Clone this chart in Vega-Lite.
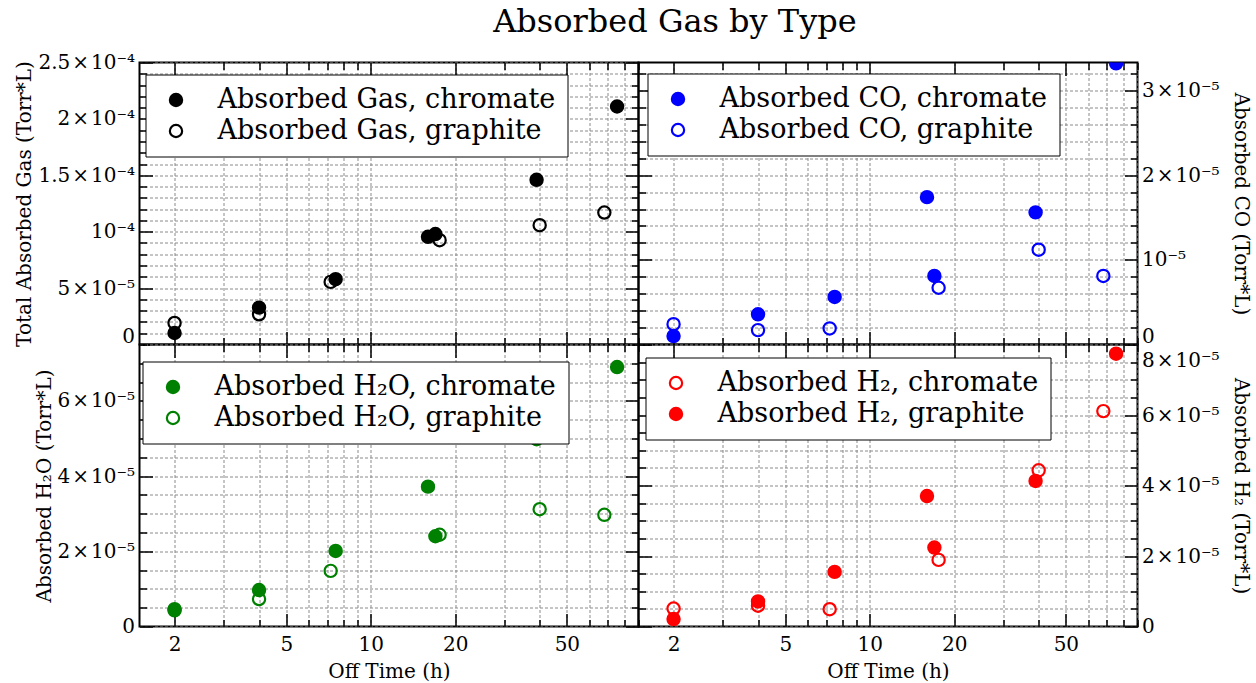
{
  "$schema": "https://vega.github.io/schema/vega-lite/v6.json",
  "background": "white",
  "padding": {"left": 13.5, "top": 5.5, "right": 5, "bottom": 0},
  "title": {"text": "Absorbed Gas by Type", "fontSize": 32, "font": "DejaVu Serif", "fontWeight": "normal", "color": "black", "anchor": "middle", "offset": 13, "dx": 42},
  "columns": 2,
  "spacing": 0,
  "bounds": "flush",
  "resolve": {"scale": {"fill": "independent"}, "legend": {"fill": "independent"}},
  "datasets": {
    "total": [
      {"t": 2, "v": 0.0000102, "s": "Absorbed Gas, chromate"},
      {"t": 4, "v": 0.0000327, "s": "Absorbed Gas, chromate"},
      {"t": 7.5, "v": 0.0000579, "s": "Absorbed Gas, chromate"},
      {"t": 16, "v": 0.0000955, "s": "Absorbed Gas, chromate"},
      {"t": 17, "v": 0.0000979, "s": "Absorbed Gas, chromate"},
      {"t": 39, "v": 0.000146, "s": "Absorbed Gas, chromate"},
      {"t": 75.5, "v": 0.000211, "s": "Absorbed Gas, chromate"},
      {"t": 2, "v": 0.0000191, "s": "Absorbed Gas, graphite"},
      {"t": 4, "v": 0.0000268, "s": "Absorbed Gas, graphite"},
      {"t": 7.2, "v": 0.0000555, "s": "Absorbed Gas, graphite"},
      {"t": 17.6, "v": 0.0000925, "s": "Absorbed Gas, graphite"},
      {"t": 40, "v": 0.0001058, "s": "Absorbed Gas, graphite"},
      {"t": 68, "v": 0.000117, "s": "Absorbed Gas, graphite"}
    ],
    "co": [
      {"t": 2, "v": 0.000001, "s": "Absorbed CO, chromate"},
      {"t": 4, "v": 0.00000357, "s": "Absorbed CO, chromate"},
      {"t": 7.5, "v": 0.00000562, "s": "Absorbed CO, chromate"},
      {"t": 16, "v": 0.0000174, "s": "Absorbed CO, chromate"},
      {"t": 17, "v": 0.0000081, "s": "Absorbed CO, chromate"},
      {"t": 39, "v": 0.0000156, "s": "Absorbed CO, chromate"},
      {"t": 75.5, "v": 0.0000332, "s": "Absorbed CO, chromate"},
      {"t": 2, "v": 0.0000024, "s": "Absorbed CO, graphite"},
      {"t": 4, "v": 0.0000017, "s": "Absorbed CO, graphite"},
      {"t": 7.2, "v": 0.0000019, "s": "Absorbed CO, graphite"},
      {"t": 17.6, "v": 0.0000067, "s": "Absorbed CO, graphite"},
      {"t": 40, "v": 0.0000112, "s": "Absorbed CO, graphite"},
      {"t": 68, "v": 0.0000081, "s": "Absorbed CO, graphite"}
    ],
    "h2o": [
      {"t": 2, "v": 0.0000043, "s": "Absorbed H₂O, chromate"},
      {"t": 4, "v": 0.0000097, "s": "Absorbed H₂O, chromate"},
      {"t": 7.5, "v": 0.0000201, "s": "Absorbed H₂O, chromate"},
      {"t": 16, "v": 0.0000372, "s": "Absorbed H₂O, chromate"},
      {"t": 17, "v": 0.000024, "s": "Absorbed H₂O, chromate"},
      {"t": 39, "v": 0.0000498, "s": "Absorbed H₂O, chromate"},
      {"t": 75.5, "v": 0.000069, "s": "Absorbed H₂O, chromate"},
      {"t": 2, "v": 0.0000046, "s": "Absorbed H₂O, graphite"},
      {"t": 4, "v": 0.0000073, "s": "Absorbed H₂O, graphite"},
      {"t": 7.2, "v": 0.0000148, "s": "Absorbed H₂O, graphite"},
      {"t": 17.6, "v": 0.0000244, "s": "Absorbed H₂O, graphite"},
      {"t": 40, "v": 0.0000312, "s": "Absorbed H₂O, graphite"},
      {"t": 68, "v": 0.0000297, "s": "Absorbed H₂O, graphite"}
    ],
    "h2": [
      {"t": 2, "v": 0.0000051, "s": "Absorbed H₂, chromate"},
      {"t": 4, "v": 0.0000059, "s": "Absorbed H₂, chromate"},
      {"t": 7.2, "v": 0.0000049, "s": "Absorbed H₂, chromate"},
      {"t": 17.6, "v": 0.0000189, "s": "Absorbed H₂, chromate"},
      {"t": 40, "v": 0.0000443, "s": "Absorbed H₂, chromate"},
      {"t": 68, "v": 0.0000611, "s": "Absorbed H₂, chromate"},
      {"t": 2, "v": 0.0000021, "s": "Absorbed H₂, graphite"},
      {"t": 4, "v": 0.0000071, "s": "Absorbed H₂, graphite"},
      {"t": 7.5, "v": 0.0000155, "s": "Absorbed H₂, graphite"},
      {"t": 16, "v": 0.000037, "s": "Absorbed H₂, graphite"},
      {"t": 17, "v": 0.0000224, "s": "Absorbed H₂, graphite"},
      {"t": 39, "v": 0.0000413, "s": "Absorbed H₂, graphite"},
      {"t": 75.5, "v": 0.0000774, "s": "Absorbed H₂, graphite"}
    ]
  },
  "concat": [
    {
      "width": 499, "height": 282,
      "data": {"name": "total"},
      "layer": [
        {
          "mark": {"type": "point", "shape": "circle", "filled": true, "size": 150, "stroke": "black", "strokeWidth": 2.2, "opacity": 1, "clip": true},
          "encoding": {
            "x": {"field": "t", "type": "quantitative", "scale": {"type": "log", "domain": [1.5, 90], "nice": false},
              "axis": {"orient": "bottom", "values": [2,3,4,5,6,7,8,9,10,20,30,40,50,60,70,80,90], "labels": false, "title": null, "grid": true,
                "tickSize": {"condition": {"test": "indexof([2,5,10,20,50], datum.value) >= 0", "value": -13}, "value": -7}}},
            "y": {"field": "v", "type": "quantitative", "scale": {"domain": [0, 0.00025], "nice": false, "zero": false},
              "axis": {"orient": "left", "title": "Total Absorbed Gas (Torr*L)", "grid": true, "titlePadding": 3, "labelPadding": 18,
                "values": [0,0.00001,0.00002,0.00003,0.00004,0.00005,0.00006,0.00007,0.00008,0.00009,0.0001,0.00011,0.00012,0.00013,0.00014,0.00015,0.00016,0.00017,0.00018,0.00019,0.0002,0.00021,0.00022,0.00023,0.00024,0.00025],
                "tickSize": {"condition": {"test": "abs(datum.value/0.00005 - round(datum.value/0.00005)) < 0.001", "value": -13}, "value": -7},
                "labelBaseline": {"condition": {"test": "datum.value < 1e-12", "value": "alphabetic"}, "value": "middle"},
                "labelOffset": {"condition": {"test": "datum.value < 1e-12", "value": -2}, "value": 0},
                "labelExpr": "abs(datum.value/0.00005 - round(datum.value/0.00005)) > 0.001 ? '' : datum.value < 1e-12 ? '0' : (abs(datum.value/pow(10, floor(log(datum.value)/LN10 + 1e-9)) - 1) < 1e-6 ? '' : format(datum.value/pow(10, floor(log(datum.value)/LN10 + 1e-9)), '.2~r') + '\u200a×\u200a') + '10' + (floor(log(datum.value)/LN10 + 1e-9) == -4 ? '⁻⁴' : '⁻⁵')"}},
            "fill": {"field": "s", "type": "nominal", "scale": {"domain": ["Absorbed Gas, chromate", "Absorbed Gas, graphite"], "range": ["black", "transparent"]},
              "legend": {"title": null, "orient": "none", "legendX": 6, "legendY": 12, "symbolStrokeColor": "black"}}
          }
        },
        {
          "mark": {"type": "point", "opacity": 0},
          "encoding": {
            "x": {"field": "t", "type": "quantitative", "scale": {"type": "log", "domain": [1.5, 90], "nice": false},
              "axis": {"orient": "top", "values": [2,3,4,5,6,7,8,9,10,20,30,40,50,60,70,80,90], "labels": false, "title": null, "grid": false,
                "tickSize": {"condition": {"test": "indexof([2,5,10,20,50], datum.value) >= 0", "value": -13}, "value": -7}}},
            "y": {"field": "v", "type": "quantitative", "scale": {"domain": [0, 0.00025], "nice": false, "zero": false},
              "axis": {"orient": "right", "title": null, "grid": false, "labels": false,
                "values": [0,0.00001,0.00002,0.00003,0.00004,0.00005,0.00006,0.00007,0.00008,0.00009,0.0001,0.00011,0.00012,0.00013,0.00014,0.00015,0.00016,0.00017,0.00018,0.00019,0.0002,0.00021,0.00022,0.00023,0.00024,0.00025],
                "tickSize": {"condition": {"test": "abs(datum.value/0.00005 - round(datum.value/0.00005)) < 0.001", "value": -13}, "value": -7}}}
          }
        }
      ],
      "resolve": {"axis": {"x": "independent", "y": "independent"}}
    },
    {
      "width": 499, "height": 282,
      "data": {"name": "co"},
      "layer": [
        {
          "mark": {"type": "point", "shape": "circle", "filled": true, "size": 150, "stroke": "#0000ff", "strokeWidth": 2.2, "opacity": 1, "clip": true},
          "encoding": {
            "x": {"field": "t", "type": "quantitative", "scale": {"type": "log", "domain": [1.5, 90], "nice": false},
              "axis": {"orient": "bottom", "values": [2,3,4,5,6,7,8,9,10,20,30,40,50,60,70,80,90], "labels": false, "title": null, "grid": true,
                "tickSize": {"condition": {"test": "indexof([2,5,10,20,50], datum.value) >= 0", "value": -13}, "value": -7}}},
            "y": {"field": "v", "type": "quantitative", "scale": {"domain": [0, 0.0000333], "nice": false, "zero": false},
              "axis": {"orient": "right", "title": "Absorbed CO (Torr*L)", "grid": true, "titlePadding": 12, "labelPadding": 17,
                "values": [0,0.000002,0.000004,0.000006,0.000008,0.00001,0.000012,0.000014,0.000016,0.000018,0.00002,0.000022,0.000024,0.000026,0.000028,0.00003,0.000032],
                "tickSize": {"condition": {"test": "abs(datum.value/0.00001 - round(datum.value/0.00001)) < 0.001", "value": -13}, "value": -7},
                "labelBaseline": {"condition": {"test": "datum.value < 1e-12", "value": "alphabetic"}, "value": "middle"},
                "labelOffset": {"condition": {"test": "datum.value < 1e-12", "value": -2}, "value": 0},
                "labelExpr": "abs(datum.value/0.00001 - round(datum.value/0.00001)) > 0.001 ? '' : datum.value < 1e-12 ? '0' : (abs(datum.value/pow(10, floor(log(datum.value)/LN10 + 1e-9)) - 1) < 1e-6 ? '' : format(datum.value/pow(10, floor(log(datum.value)/LN10 + 1e-9)), '.2~r') + '\u200a×\u200a') + '10' + (floor(log(datum.value)/LN10 + 1e-9) == -4 ? '⁻⁴' : '⁻⁵')"}},
            "fill": {"field": "s", "type": "nominal", "scale": {"domain": ["Absorbed CO, chromate", "Absorbed CO, graphite"], "range": ["#0000ff", "transparent"]},
              "legend": {"title": null, "orient": "none", "legendX": 9, "legendY": 11, "symbolStrokeColor": "#0000ff"}}
          }
        },
        {
          "mark": {"type": "point", "opacity": 0},
          "encoding": {
            "x": {"field": "t", "type": "quantitative", "scale": {"type": "log", "domain": [1.5, 90], "nice": false},
              "axis": {"orient": "top", "values": [2,3,4,5,6,7,8,9,10,20,30,40,50,60,70,80,90], "labels": false, "title": null, "grid": false,
                "tickSize": {"condition": {"test": "indexof([2,5,10,20,50], datum.value) >= 0", "value": -13}, "value": -7}}},
            "y": {"field": "v", "type": "quantitative", "scale": {"domain": [0, 0.0000333], "nice": false, "zero": false},
              "axis": {"orient": "left", "title": null, "grid": false, "labels": false,
                "values": [0,0.000002,0.000004,0.000006,0.000008,0.00001,0.000012,0.000014,0.000016,0.000018,0.00002,0.000022,0.000024,0.000026,0.000028,0.00003,0.000032],
                "tickSize": {"condition": {"test": "abs(datum.value/0.00001 - round(datum.value/0.00001)) < 0.001", "value": -13}, "value": -7}}}
          }
        }
      ],
      "resolve": {"axis": {"x": "independent", "y": "independent"}}
    },
    {
      "width": 499, "height": 282,
      "data": {"name": "h2o"},
      "layer": [
        {
          "mark": {"type": "point", "shape": "circle", "filled": true, "size": 150, "stroke": "#008000", "strokeWidth": 2.2, "opacity": 1, "clip": true},
          "encoding": {
            "x": {"field": "t", "type": "quantitative", "scale": {"type": "log", "domain": [1.5, 90], "nice": false},
              "axis": {"orient": "bottom", "values": [2,3,4,5,6,7,8,9,10,20,30,40,50,60,70,80,90], "title": "Off Time (h)", "grid": true, "labelPadding": 21, "titlePadding": 1,
                "labelExpr": "indexof([2,5,10,20,50], datum.value) >= 0 ? format(datum.value, 'd') : ''",
                "tickSize": {"condition": {"test": "indexof([2,5,10,20,50], datum.value) >= 0", "value": -13}, "value": -7}}},
            "y": {"field": "v", "type": "quantitative", "scale": {"domain": [0, 0.000075], "nice": false, "zero": false},
              "axis": {"orient": "left", "title": "Absorbed H₂O (Torr*L)", "grid": true, "titlePadding": 3, "labelPadding": 18,
                "values": [0,0.000005,0.00001,0.000015,0.00002,0.000025,0.00003,0.000035,0.00004,0.000045,0.00005,0.000055,0.00006,0.000065,0.00007,0.000075],
                "tickSize": {"condition": {"test": "abs(datum.value/0.00002 - round(datum.value/0.00002)) < 0.001", "value": -13}, "value": -7},
                "labelExpr": "abs(datum.value/0.00002 - round(datum.value/0.00002)) > 0.001 ? '' : datum.value < 1e-12 ? '0' : (abs(datum.value/pow(10, floor(log(datum.value)/LN10 + 1e-9)) - 1) < 1e-6 ? '' : format(datum.value/pow(10, floor(log(datum.value)/LN10 + 1e-9)), '.2~r') + '\u200a×\u200a') + '10' + (floor(log(datum.value)/LN10 + 1e-9) == -4 ? '⁻⁴' : '⁻⁵')"}},
            "fill": {"field": "s", "type": "nominal", "scale": {"domain": ["Absorbed H₂O, chromate", "Absorbed H₂O, graphite"], "range": ["#008000", "transparent"]},
              "legend": {"title": null, "orient": "none", "legendX": 3, "legendY": 17, "symbolStrokeColor": "#008000"}}
          }
        },
        {
          "mark": {"type": "point", "opacity": 0},
          "encoding": {
            "x": {"field": "t", "type": "quantitative", "scale": {"type": "log", "domain": [1.5, 90], "nice": false},
              "axis": {"orient": "top", "values": [2,3,4,5,6,7,8,9,10,20,30,40,50,60,70,80,90], "labels": false, "title": null, "grid": false,
                "tickSize": {"condition": {"test": "indexof([2,5,10,20,50], datum.value) >= 0", "value": -13}, "value": -7}}},
            "y": {"field": "v", "type": "quantitative", "scale": {"domain": [0, 0.000075], "nice": false, "zero": false},
              "axis": {"orient": "right", "title": null, "grid": false, "labels": false,
                "values": [0,0.000005,0.00001,0.000015,0.00002,0.000025,0.00003,0.000035,0.00004,0.000045,0.00005,0.000055,0.00006,0.000065,0.00007,0.000075],
                "tickSize": {"condition": {"test": "abs(datum.value/0.00002 - round(datum.value/0.00002)) < 0.001", "value": -13}, "value": -7}}}
          }
        }
      ],
      "resolve": {"axis": {"x": "independent", "y": "independent"}}
    },
    {
      "width": 499, "height": 282,
      "data": {"name": "h2"},
      "layer": [
        {
          "mark": {"type": "point", "shape": "circle", "filled": true, "size": 150, "stroke": "#ff0000", "strokeWidth": 2.2, "opacity": 1, "clip": true},
          "encoding": {
            "x": {"field": "t", "type": "quantitative", "scale": {"type": "log", "domain": [1.5, 90], "nice": false},
              "axis": {"orient": "bottom", "values": [2,3,4,5,6,7,8,9,10,20,30,40,50,60,70,80,90], "title": "Off Time (h)", "grid": true, "labelPadding": 21, "titlePadding": 1,
                "labelExpr": "indexof([2,5,10,20,50], datum.value) >= 0 ? format(datum.value, 'd') : ''",
                "tickSize": {"condition": {"test": "indexof([2,5,10,20,50], datum.value) >= 0", "value": -13}, "value": -7}}},
            "y": {"field": "v", "type": "quantitative", "scale": {"domain": [0, 0.00008], "nice": false, "zero": false},
              "axis": {"orient": "right", "title": "Absorbed H₂ (Torr*L)", "grid": true, "titlePadding": 12, "labelPadding": 17,
                "values": [0,0.000005,0.00001,0.000015,0.00002,0.000025,0.00003,0.000035,0.00004,0.000045,0.00005,0.000055,0.00006,0.000065,0.00007,0.000075,0.00008],
                "tickSize": {"condition": {"test": "abs(datum.value/0.00002 - round(datum.value/0.00002)) < 0.001", "value": -13}, "value": -7},
                "labelBaseline": {"condition": {"test": "datum.value > 0.000079", "value": "top"}, "value": "middle"},
                "labelOffset": {"condition": {"test": "datum.value > 0.000079", "value": 6}, "value": 0},
                "labelExpr": "abs(datum.value/0.00002 - round(datum.value/0.00002)) > 0.001 ? '' : datum.value < 1e-12 ? '0' : (abs(datum.value/pow(10, floor(log(datum.value)/LN10 + 1e-9)) - 1) < 1e-6 ? '' : format(datum.value/pow(10, floor(log(datum.value)/LN10 + 1e-9)), '.2~r') + '\u200a×\u200a') + '10' + (floor(log(datum.value)/LN10 + 1e-9) == -4 ? '⁻⁴' : '⁻⁵')"}},
            "fill": {"field": "s", "type": "nominal", "scale": {"domain": ["Absorbed H₂, chromate", "Absorbed H₂, graphite"], "range": ["transparent", "#ff0000"]},
              "legend": {"title": null, "orient": "none", "legendX": 7, "legendY": 13, "symbolStrokeColor": "#ff0000"}}
          }
        },
        {
          "mark": {"type": "point", "opacity": 0},
          "encoding": {
            "x": {"field": "t", "type": "quantitative", "scale": {"type": "log", "domain": [1.5, 90], "nice": false},
              "axis": {"orient": "top", "values": [2,3,4,5,6,7,8,9,10,20,30,40,50,60,70,80,90], "labels": false, "title": null, "grid": false,
                "tickSize": {"condition": {"test": "indexof([2,5,10,20,50], datum.value) >= 0", "value": -13}, "value": -7}}},
            "y": {"field": "v", "type": "quantitative", "scale": {"domain": [0, 0.00008], "nice": false, "zero": false},
              "axis": {"orient": "left", "title": null, "grid": false, "labels": false,
                "values": [0,0.000005,0.00001,0.000015,0.00002,0.000025,0.00003,0.000035,0.00004,0.000045,0.00005,0.000055,0.00006,0.000065,0.00007,0.000075,0.00008],
                "tickSize": {"condition": {"test": "abs(datum.value/0.00002 - round(datum.value/0.00002)) < 0.001", "value": -13}, "value": -7}}}
          }
        }
      ],
      "resolve": {"axis": {"x": "independent", "y": "independent"}}
    }
  ],
  "config": {
    "font": "DejaVu Serif",
    "view": {"stroke": "black", "strokeWidth": 2},
    "axis": {"labelFont": "DejaVu Serif", "titleFont": "DejaVu Serif", "labelFontSize": 20, "titleFontSize": 20, "titleFontWeight": "normal", "labelColor": "black", "titleColor": "black", "tickColor": "black", "tickWidth": 1.5, "gridColor": "#8a8a8a", "gridDash": [3, 2], "gridWidth": 1, "gridOpacity": 1, "labelOverlap": false, "labelFlush": false, "domain": false},
    "legend": {"labelFont": "DejaVu Serif", "labelFontSize": 27, "labelColor": "black", "fillColor": "white", "strokeColor": "black", "padding": 12, "rowPadding": 3, "symbolOffset": 5, "labelOffset": 28, "symbolSize": 150, "symbolStrokeWidth": 2.2, "symbolType": "circle", "labelLimit": 0, "cornerRadius": 0}
  }
}
